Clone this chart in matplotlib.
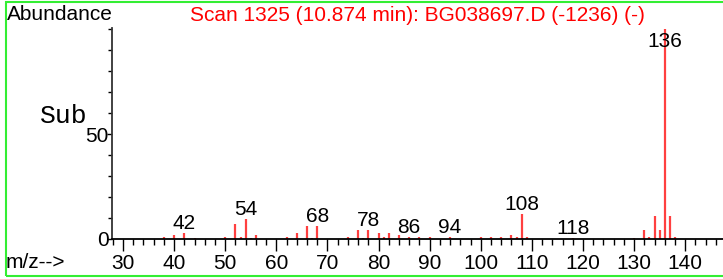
import matplotlib.pyplot as plt
from matplotlib.patches import Rectangle
from matplotlib.ticker import MultipleLocator, FixedLocator

# mass spectrum, scan 1325
MZ = [38, 40, 42, 44, 50, 52, 53, 54, 55, 56, 62, 64, 66, 67, 68, 74, 76, 77, 78,
      80, 81, 82, 84, 86, 88, 90, 94, 100, 102, 104, 106, 107, 108, 109, 118, 130,
      132, 133, 134, 135, 136, 137, 138]
ABUNDANCE = [1.1, 2.0, 3.0, 0.4, 1.1, 7.3, 1.1, 9.5, 0.4, 2.0, 1.1, 3.0, 6.2, 0.4, 6.2,
             1.1, 4.3, 0.4, 4.3, 3.0, 1.1, 3.0, 2.0, 1.1, 1.1, 1.1, 1.1, 1.1, 1.1, 1.1,
             2.0, 1.1, 12.0, 1.1, 0.4, 0.4, 4.3, 1.1, 11.0, 4.3, 100.0, 11.0, 1.1]
LABELED = [42, 54, 68, 78, 86, 94, 108, 118, 136]

TITLE = "Scan 1325 (10.874 min): BG038697.D (-1236) (-)"

FS = 15
plt.rcParams.update({
    "font.family": "Liberation Sans",
    "font.size": FS,
})

W, H = 723, 279
fig = plt.figure(figsize=(W / 100, H / 100), dpi=100)
ax = fig.add_axes([112 / W, 40 / H, (W - 112) / W, 211 / H])

ax.vlines(MZ, 0, ABUNDANCE, colors="#ff4040", lw=1.6)

for mz in LABELED:
    h = ABUNDANCE[MZ.index(mz)]
    ax.annotate(str(mz), (mz, min(h, 89.5)), xytext=(0, 3), textcoords="offset points",
                ha="center", va="baseline", fontsize=FS)

ax.set_xlim(27.85, 147.4)
ax.set_ylim(0, 100.5)

for side in ("top", "right"):
    ax.spines[side].set_visible(False)
ax.spines["bottom"].set_linewidth(1.3)
ax.spines["left"].set_linewidth(1.3)
ax.spines["left"].set_color("#333333")

ax.xaxis.set_major_locator(MultipleLocator(10))
ax.xaxis.set_minor_locator(MultipleLocator(2))
ax.yaxis.set_major_locator(FixedLocator([0, 50]))
ax.yaxis.set_minor_locator(MultipleLocator(10))
ax.tick_params(axis="x", which="major", length=8.5, width=1, pad=2.5, labelsize=FS)
ax.tick_params(axis="x", which="minor", length=4.3, width=1)
ax.tick_params(axis="y", which="major", length=3.6, width=1, pad=-1, labelsize=FS)
ax.tick_params(axis="y", which="minor", length=3, width=1)

fig.text(7 / W, 1 - 20 / H, "Abundance", ha="left", va="baseline", fontsize=FS)
fig.text(417 / W, 1 - 21 / H, TITLE, ha="center", va="baseline", fontsize=FS, color="#ff0000")
fig.text(40 / W, 1 - 123 / H, "Sub", ha="left", va="baseline", fontsize=19,
         family="Liberation Mono")
fig.text(6 / W, 1 - 268 / H, "m/z-->", ha="left", va="baseline", fontsize=FS)

fig.patches.append(Rectangle((6 / W, 3 / H), 1.2, 1 - 4.5 / H, transform=fig.transFigure,
                             fill=False, edgecolor="#33ee33", lw=1.5))

fig.savefig("out.png", dpi=100)
